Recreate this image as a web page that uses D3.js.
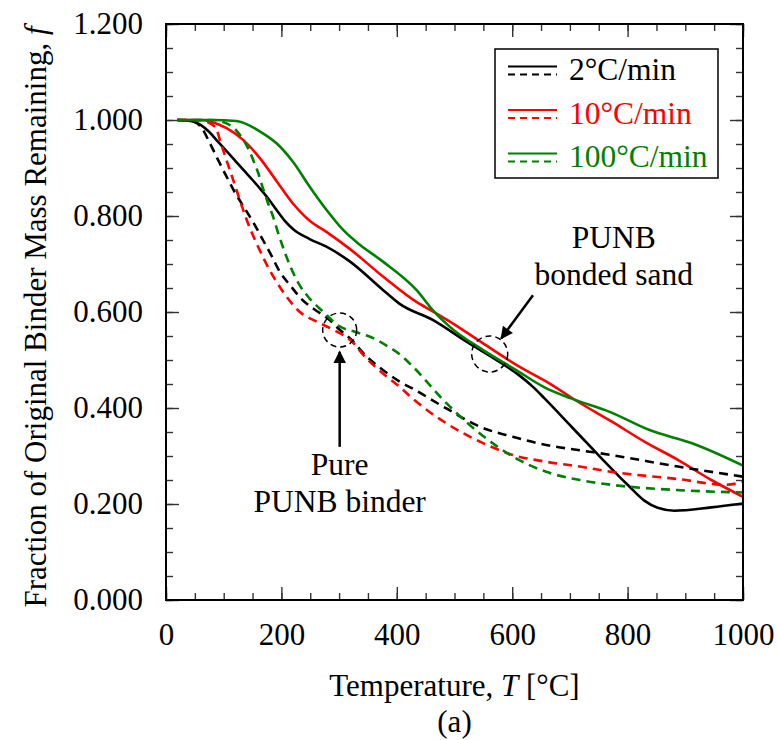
<!DOCTYPE html>
<html>
<head>
<meta charset="utf-8">
<script src="https://cdn.jsdelivr.net/npm/d3@7"></script>
<style>
  html, body { margin: 0; padding: 0; background: #fff; }
  svg { display: block; font-family: "Liberation Serif", "Times New Roman", serif; }
</style>
</head>
<body>
<svg id="chart" width="777" height="740"></svg>
<script>
// ---------------- data ----------------
const seriesNames = ["2°C/min", "10°C/min", "100°C/min"];
const seriesColors = ["#000000", "#ff0000", "#008000"];

// bonded sand (solid lines)
const tSand2 = [20, 47, 60, 75, 90, 105, 120, 135, 150, 163, 178, 192, 206, 220, 249, 278, 319, 376, 405, 463, 521, 578, 610, 636, 656, 702, 743, 800, 829, 852, 881, 945, 1000];
const fSand2 = [1.000, 0.997, 0.990, 0.975, 0.955, 0.935, 0.915, 0.895, 0.875, 0.857, 0.835, 0.812, 0.790, 0.773, 0.752, 0.736, 0.705, 0.646, 0.617, 0.583, 0.538, 0.496, 0.470, 0.444, 0.420, 0.362, 0.310, 0.240, 0.207, 0.192, 0.186, 0.193, 0.201];

const tSand10 = [20, 60, 76, 105, 134, 163, 192, 220, 249, 278, 319, 376, 434, 463, 492, 549, 607, 665, 714, 772, 829, 887, 945, 1000];
const fSand10 = [1.000, 1.000, 0.997, 0.983, 0.958, 0.920, 0.872, 0.826, 0.790, 0.767, 0.731, 0.674, 0.621, 0.601, 0.580, 0.535, 0.490, 0.451, 0.413, 0.372, 0.330, 0.292, 0.250, 0.215];

const tSand100 = [20, 80, 122, 163, 192, 220, 249, 278, 307, 336, 376, 434, 463, 492, 549, 607, 656, 702, 769, 838, 913, 1000];
const fSand100 = [1.000, 1.000, 0.998, 0.976, 0.951, 0.913, 0.861, 0.813, 0.771, 0.740, 0.705, 0.646, 0.603, 0.569, 0.521, 0.479, 0.443, 0.420, 0.392, 0.354, 0.326, 0.280];

// pure binder (dashed lines)
const tPure2 = [20, 47, 59, 76, 91, 105, 119, 137, 154, 168, 183, 197, 215, 235, 260, 280, 301, 319, 347, 376, 405, 428, 486, 544, 601, 659, 717, 772, 887, 1000];
const fPure2 = [1.000, 0.997, 0.988, 0.952, 0.915, 0.882, 0.850, 0.815, 0.781, 0.750, 0.717, 0.684, 0.656, 0.627, 0.603, 0.587, 0.563, 0.545, 0.508, 0.479, 0.455, 0.440, 0.399, 0.361, 0.340, 0.323, 0.312, 0.302, 0.278, 0.257];

const tPure10 = [20, 60, 85, 96, 108, 119, 131, 145, 160, 174, 192, 212, 232, 261, 290, 319, 347, 376, 405, 428, 486, 544, 601, 659, 717, 772, 887, 970, 1000];
const fPure10 = [1.000, 0.999, 0.986, 0.948, 0.905, 0.866, 0.822, 0.776, 0.735, 0.700, 0.662, 0.627, 0.600, 0.580, 0.563, 0.542, 0.504, 0.472, 0.444, 0.419, 0.368, 0.330, 0.302, 0.288, 0.278, 0.267, 0.252, 0.240, 0.246];

const tPure100 = [20, 80, 110, 128, 141, 151, 160, 168, 177, 186, 194, 206, 218, 232, 249, 272, 301, 330, 360, 385, 405, 428, 486, 544, 601, 659, 717, 772, 887, 1000];
const fPure100 = [1.000, 1.000, 0.990, 0.969, 0.944, 0.917, 0.889, 0.858, 0.826, 0.797, 0.766, 0.724, 0.688, 0.655, 0.628, 0.601, 0.570, 0.558, 0.545, 0.528, 0.512, 0.486, 0.410, 0.347, 0.299, 0.267, 0.250, 0.240, 0.229, 0.224];

const xMajorTicks = [0, 200, 400, 600, 800, 1000];
const xMinorTicks = d3.range(0, 1001, 50);
const yMajorTicks = [0, 0.2, 0.4, 0.6, 0.8, 1.0, 1.2];
const yMinorTicks = d3.range(0, 1.2001, 0.05);

// ---------------- layout ----------------
const svg = d3.select("#chart");
const L = 166, R = 743, T = 24, B = 600;
const x = d3.scaleLinear().domain([0, 1000]).range([L, R]);
const y = d3.scaleLinear().domain([0, 1.2]).range([B, T]);
const FONT = 31;

const series = [
  { t: tSand2, f: fSand2, c: 0, dash: null },
  { t: tSand10, f: fSand10, c: 1, dash: null },
  { t: tSand100, f: fSand100, c: 2, dash: null },
  { t: tPure2, f: fPure2, c: 0, dash: "9,6" },
  { t: tPure10, f: fPure10, c: 1, dash: "9,6" },
  { t: tPure100, f: fPure100, c: 2, dash: "9,6" }
];

// ---------------- axes ----------------
function styleTicks(g) {
  g.select(".domain").remove();
  g.selectAll(".tick line").attr("stroke", "#333").attr("stroke-width", 1.4);
  g.selectAll("text").attr("font-size", FONT).attr("fill", "#000")
    .attr("font-family", "Liberation Serif, Times New Roman, serif");
}
// bottom
svg.append("g").attr("transform", `translate(0,${B})`)
  .call(d3.axisBottom(x).tickValues(xMinorTicks).tickSize(-7).tickFormat(""))
  .call(styleTicks);
svg.append("g").attr("transform", `translate(0,${B})`)
  .call(d3.axisBottom(x).tickValues(xMajorTicks).tickSize(-13).tickPadding(23).tickFormat(d3.format("d")))
  .call(styleTicks);
// top
svg.append("g").attr("transform", `translate(0,${T})`)
  .call(d3.axisTop(x).tickValues(xMinorTicks).tickSize(-7).tickFormat(""))
  .call(styleTicks);
svg.append("g").attr("transform", `translate(0,${T})`)
  .call(d3.axisTop(x).tickValues(xMajorTicks).tickSize(-13).tickFormat(""))
  .call(styleTicks);
// left
svg.append("g").attr("transform", `translate(${L},0)`)
  .call(d3.axisLeft(y).tickValues(yMinorTicks).tickSize(-7).tickFormat(""))
  .call(styleTicks);
svg.append("g").attr("transform", `translate(${L},0)`)
  .call(d3.axisLeft(y).tickValues(yMajorTicks).tickSize(-13).tickPadding(23).tickFormat(d3.format(".3f")))
  .call(styleTicks);
// right
svg.append("g").attr("transform", `translate(${R},0)`)
  .call(d3.axisRight(y).tickValues(yMinorTicks).tickSize(-7).tickFormat(""))
  .call(styleTicks);
svg.append("g").attr("transform", `translate(${R},0)`)
  .call(d3.axisRight(y).tickValues(yMajorTicks).tickSize(-13).tickFormat(""))
  .call(styleTicks);

// ---------------- lines ----------------
const line = d3.line().x(d => x(d[0])).y(d => y(d[1])).curve(d3.curveMonotoneX);
const plot = svg.append("g");
series.forEach(s => {
  plot.append("path")
    .datum(s.t.map((t, i) => [t, s.f[i]]))
    .attr("d", line)
    .attr("fill", "none")
    .attr("stroke", seriesColors[s.c])
    .attr("stroke-width", 2.6)
    .attr("stroke-dasharray", s.dash);
});

// frame
svg.append("rect").attr("x", L).attr("y", T).attr("width", R - L).attr("height", B - T)
  .attr("fill", "none").attr("stroke", "#000").attr("stroke-width", 2);

// ---------------- annotations ----------------
svg.append("defs").append("marker")
  .attr("id", "arrow").attr("viewBox", "0 0 10 10").attr("refX", 9).attr("refY", 5)
  .attr("markerWidth", 5.5).attr("markerHeight", 5).attr("orient", "auto")
  .append("path").attr("d", "M0,0 L10,5 L0,10 z").attr("fill", "#000");

const circles = [{ t: 301, f: 0.5625, r: 17 }, { t: 561, f: 0.5125, r: 18 }];
circles.forEach(c => {
  svg.append("circle").attr("cx", x(c.t)).attr("cy", y(c.f)).attr("r", c.r)
    .attr("fill", "none").attr("stroke", "#000").attr("stroke-width", 1.5).attr("stroke-dasharray", "6,4");
});
const arrows = [
  { t1: 301, f1: 0.319, t2: 301, f2: 0.517 },
  { t1: 636, f1: 0.635, t2: 581, f2: 0.545 }
];
arrows.forEach(a => {
  svg.append("line").attr("x1", x(a.t1)).attr("y1", y(a.f1)).attr("x2", x(a.t2)).attr("y2", y(a.f2))
    .attr("stroke", "#000").attr("stroke-width", 2.5).attr("marker-end", "url(#arrow)");
});
const notes = [
  { t: 301, f: 0.260, text: "Pure" },
  { t: 301, f: 0.183, text: "PUNB binder" },
  { t: 776, f: 0.733, text: "PUNB" },
  { t: 776, f: 0.656, text: "bonded sand" }
];
notes.forEach(n => {
  svg.append("text").attr("x", x(n.t)).attr("y", y(n.f)).attr("text-anchor", "middle")
    .attr("font-size", 31.5).attr("fill", "#000").text(n.text);
});

// ---------------- legend ----------------
const lg = svg.append("g");
lg.append("rect").attr("x", 495).attr("y", 49).attr("width", 223).attr("height", 129)
  .attr("fill", "#fff").attr("stroke", "#000").attr("stroke-width", 1.5);
seriesNames.forEach((name, i) => {
  const cy = 70 + i * 43.5;
  lg.append("line").attr("x1", 508).attr("x2", 557).attr("y1", cy - 3.5).attr("y2", cy - 3.5)
    .attr("stroke", seriesColors[i]).attr("stroke-width", 2);
  lg.append("line").attr("x1", 508).attr("x2", 557).attr("y1", cy + 4.5).attr("y2", cy + 4.5)
    .attr("stroke", seriesColors[i]).attr("stroke-width", 2).attr("stroke-dasharray", "7,5");
  lg.append("text").attr("x", 569).attr("y", cy + 10).attr("font-size", 31.5)
    .attr("fill", seriesColors[i]).text(name);
});

// ---------------- titles ----------------
const xt = svg.append("text").attr("x", (L + R) / 2).attr("y", 696).attr("text-anchor", "middle")
  .attr("font-size", FONT).attr("fill", "#000");
xt.append("tspan").text("Temperature, ");
xt.append("tspan").attr("font-style", "italic").text("T");
xt.append("tspan").text(" [°C]");

svg.append("text").attr("x", (L + R) / 2).attr("y", 732).attr("text-anchor", "middle")
  .attr("font-size", FONT).attr("fill", "#000").text("(a)");

const yt = svg.append("text").attr("transform", `translate(46,${(T + B) / 2 + 5}) rotate(-90)`)
  .attr("text-anchor", "middle").attr("font-size", FONT).attr("fill", "#000");
yt.append("tspan").text("Fraction of Original Binder Mass Remaining, ");
yt.append("tspan").attr("font-style", "italic").text("f");
</script>
</body>
</html>
